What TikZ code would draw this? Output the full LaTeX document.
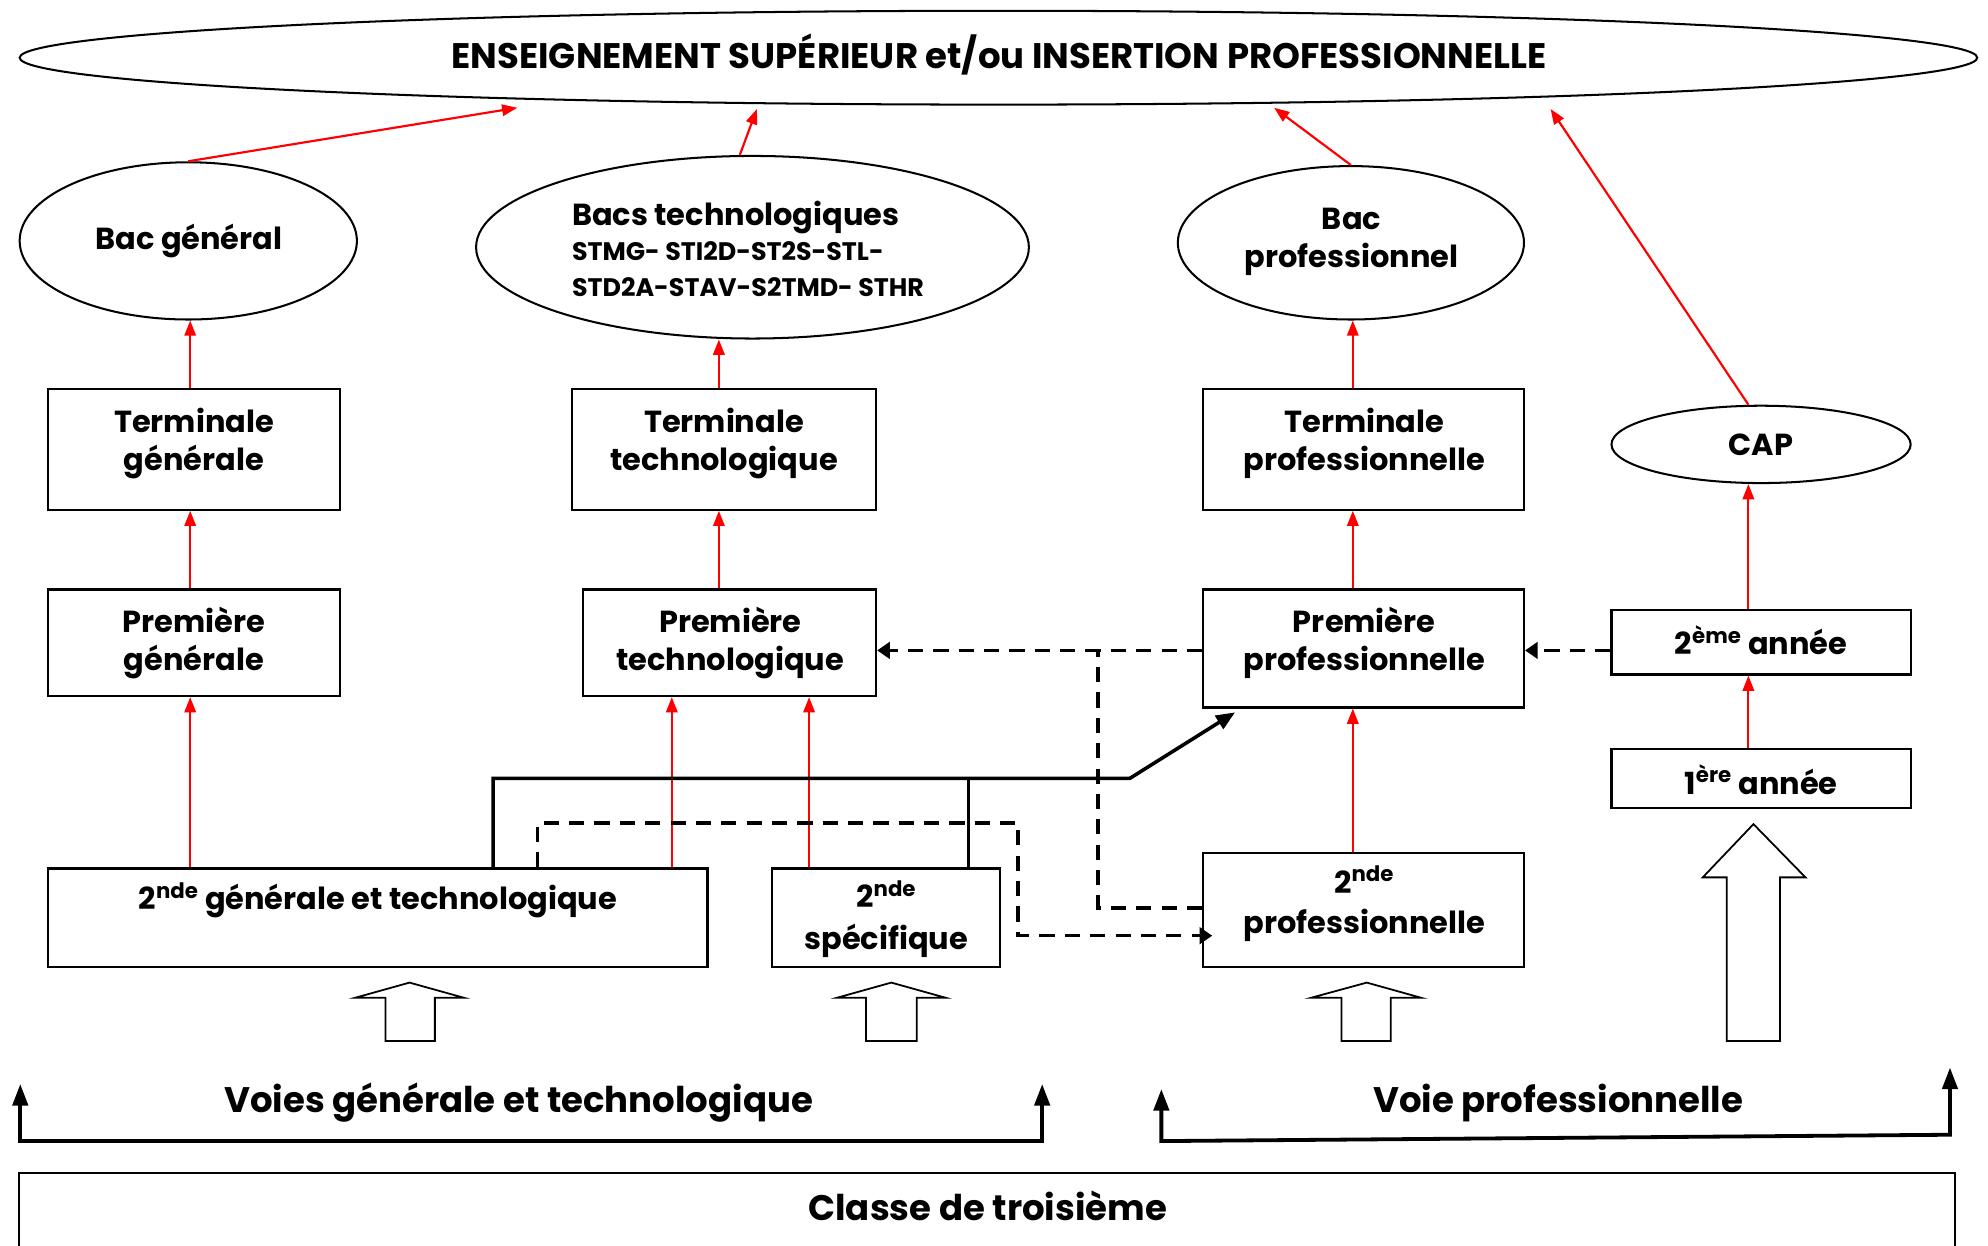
\documentclass[tikz,border=0pt]{standalone}
\usepackage{fontspec}
\setmainfont{Poppins}
\usetikzlibrary{arrows.meta,shapes.geometric,calc}
\begin{document}
\begin{tikzpicture}[x=1pt,y=-1pt,
  box/.style={draw,line width=1.7pt,inner sep=0pt},
  ell/.style={draw,ellipse,line width=1.6pt,inner sep=0pt},
  lbl/.style={font=\fontsize{24}{30}\selectfont\bfseries,align=center,inner sep=0pt},
  big/.style={font=\fontsize{28}{34}\selectfont\bfseries,align=center,inner sep=0pt},
  redarr/.style={draw=red,line width=1.7pt,-{Triangle[length=12pt,width=9pt]}},
  blk/.style={line width=2.8pt,-{Triangle[length=15pt,width=12pt]}},
  dsh/.style={line width=2.8pt,dash pattern=on 12pt off 8pt},
  dsharr/.style={dsh,-{Triangle[length=10pt,width=13pt]}},
  brk/.style={line width=3pt,{Triangle[length=17pt,width=12pt]}-{Triangle[length=17pt,width=12pt]}},
  blockarr/.style={draw,line width=1.4pt,fill=white},
]
\useasboundingbox (0,0) rectangle (1568,982);

% ---- ellipses
\node[ell,minimum width=1544pt,minimum height=74pt] (top) at (787.5,45.5) {};
\node[big] (topT) at (788,43) {ENSEIGNEMENT SUPÉRIEUR et/ou INSERTION PROFESSIONNELLE};
\node[ell,minimum width=266pt,minimum height=124pt] (bg) at (148.5,190) {};
\node[lbl] (bgT) at (149,190) {Bac général};
\node[ell,minimum width=436pt,minimum height=144pt] (bt) at (593.5,195) {};
\node[lbl,align=left,anchor=west] (btT) at (451,196) {Bacs technologiques\\[-2pt]
  {\fontsize{20}{28}\selectfont STMG- STI2D-ST2S-STL-}\\[-2pt]
  {\fontsize{20}{28}\selectfont STD2A-STAV-S2TMD- STHR}};
\node[ell,minimum width=273pt,minimum height=121pt] (bp) at (1065.5,191.5) {};
\node[lbl] (bpT) at (1066,191) {Bac\\professionnel};
\node[ell,minimum width=236pt,minimum height=61pt] (cap) at (1389,350.5) {};
\node[lbl] (capT) at (1389,351) {CAP};

% ---- boxes
\node[box,minimum width=230pt,minimum height=95pt] (tg) at (153,354.5) {};
\node[lbl] (tgT) at (153,350) {Terminale\\générale};
\node[box,minimum width=240pt,minimum height=95pt] (tt) at (571,354.5) {};
\node[lbl] (ttT) at (571,350) {Terminale\\technologique};
\node[box,minimum width=253pt,minimum height=95pt] (tp) at (1075.5,354.5) {};
\node[lbl] (tpT) at (1076,350) {Terminale\\professionnelle};

\node[box,minimum width=230pt,minimum height=84pt] (pg) at (153,507) {};
\node[lbl] (pgT) at (153,507) {Première\\générale};
\node[box,minimum width=231pt,minimum height=84pt] (pt) at (575.5,507) {};
\node[lbl] (ptT) at (576,507) {Première\\technologique};
\node[box,minimum width=253pt,minimum height=93pt] (pp) at (1075.5,511.5) {};
\node[lbl] (ppT) at (1076,507) {Première\\professionnelle};

\node[box,minimum width=236pt,minimum height=51pt] (a2) at (1389,506.5) {};
\node[lbl] (a2T) at (1389,505) {2\textsuperscript{ème} année};
\node[box,minimum width=236pt,minimum height=46pt] (a1) at (1389,614) {};
\node[lbl] (a1T) at (1389,615) {1\textsuperscript{ère} année};

\node[box,minimum width=520pt,minimum height=78pt] (sgt) at (298,724) {};
\node[lbl] (sgtT) at (298,710) {2\textsuperscript{nde} générale et technologique};
\node[box,minimum width=180pt,minimum height=78pt] (ssp) at (699,724) {};
\node[lbl,font=\fontsize{24}{33}\selectfont\bfseries] (sspT) at (699,725) {2\textsuperscript{nde}\\spécifique};
\node[box,minimum width=253pt,minimum height=90pt] (spro) at (1075.5,718) {};
\node[lbl,font=\fontsize{24}{32}\selectfont\bfseries] (sproT) at (1076,713) {2\textsuperscript{nde}\\professionnelle};

\node[box,minimum width=1527pt,minimum height=120pt,anchor=north] (c3) at (778.5,924) {};
\node[big] (c3T) at (779,951) {Classe de troisième};

\node[big] (vgt) at (409,870) {Voies générale et technologique};
\node[big] (vp) at (1229,870) {Voie professionnelle};

% ---- helper coordinates
\coordinate (cG) at (150,0);
\coordinate (cT) at (567,0);
\coordinate (cP) at (1067,0);
\coordinate (cC) at (1379,0);
\coordinate (e1) at (408,85);
\coordinate (e2) at (597,86);
\coordinate (e3) at (1005,85);
\coordinate (e4) at (1223,86);

% ---- red arrows
\draw[redarr] (bg.north) -- (e1);
\draw[redarr] ([xshift=-10pt]bt.north) -- (e2);
\draw[redarr] (bp.north) -- (e3);
\draw[redarr] ([xshift=-10pt]cap.north) -- (e4);

\draw[redarr] (cG |- tg.north) -- (cG |- bg.south);
\draw[redarr] (cT |- tt.north) -- (cT |- bt.south);
\draw[redarr] (cP |- tp.north) -- (cP |- bp.south);
\draw[redarr] (cG |- pg.north) -- (cG |- tg.south);
\draw[redarr] (cT |- pt.north) -- (cT |- tt.south);
\draw[redarr] (cP |- pp.north) -- (cP |- tp.south);
\draw[redarr] (cG |- sgt.north) -- (cG |- pg.south);
\draw[redarr] ([xshift=-29pt]sgt.north east) -- ([xshift=-29pt]sgt.north east |- pt.south);
\draw[redarr] ([xshift=30pt]ssp.north west) -- ([xshift=30pt]ssp.north west |- pt.south);
\draw[redarr] (cP |- spro.north) -- (cP |- pp.south);
\draw[redarr] (cC |- a2.north) -- (cC |- cap.south);
\draw[redarr] (cC |- a1.north) -- (cC |- a2.south);

% ---- black solid connector
\coordinate (j1) at (389,614);
\coordinate (j2) at (891,614);
\coordinate (j3) at (764,614);
\draw[blk] (j1 |- sgt.north) -- (j1) -- (j2) -- ([xshift=26pt,yshift=-3pt]pp.south west);
\draw[line width=2.8pt] (j3 |- ssp.north) -- (j3);

% ---- dashed connectors
\coordinate (dy) at (0,513);
\coordinate (dv) at (866,716);
\coordinate (k1) at (424,649);
\coordinate (k2) at (803,649);
\coordinate (k3) at (803,738);
\draw[dsharr] (pp.west |- dy) -- (pt.east |- dy);
\draw[dsharr] (a2.west |- dy) -- (pp.east |- dy);
\draw[dsh] (spro.west |- dv) -- (dv) -- (dv |- dy);
\draw[dsharr] (k1 |- sgt.north) -- (k1) -- (k2) -- (k3) -- ([xshift=8pt]spro.west |- k3);

% ---- block arrows
\draw[blockarr] (323,775) -- (366,787) -- (343,787) -- (343,821) -- (304,821) -- (304,787) -- (280,787) -- cycle;
\draw[blockarr] (703,775) -- (746,787) -- (723,787) -- (723,821) -- (683,821) -- (683,787) -- (660,787) -- cycle;
\draw[blockarr] (1078,775) -- (1121,787) -- (1097,787) -- (1097,821) -- (1058,821) -- (1058,787) -- (1034,787) -- cycle;
\draw[blockarr] (1383,650) -- (1424,692) -- (1404,692) -- (1404,821) -- (1362,821) -- (1362,692) -- (1343,692) -- cycle;

% ---- brackets
\coordinate (b1) at (16,855);
\coordinate (b2) at (16,900);
\coordinate (b3) at (822,900);
\coordinate (b4) at (822,855);
\coordinate (b5) at (916,859);
\coordinate (b6) at (916,900);
\coordinate (b7) at (1538,895);
\coordinate (b8) at (1538,842);
\draw[brk] (b1) -- (b2) -- (b3) -- (b4);
\draw[brk] (b5) -- (b6) -- (b7) -- (b8);
\end{tikzpicture}
\end{document}
